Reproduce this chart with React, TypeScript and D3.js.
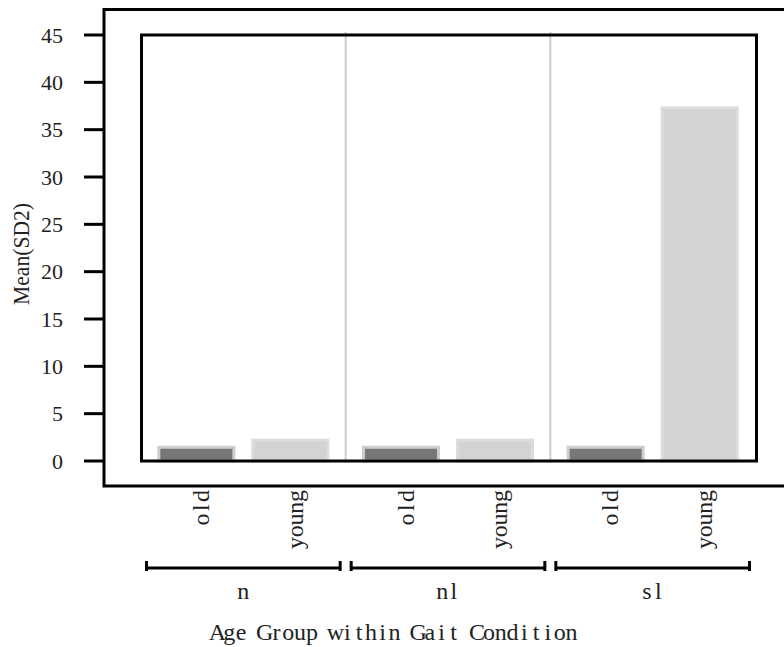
import React from "react";
import * as d3 from "d3";

const categories = ["n", "nl", "sl"];
const ageGroups = ["old", "young"];
const oldValues = [1.45, 1.45, 1.45];
const youngValues = [2.2, 2.2, 37.3];
const yTicks = [0, 5, 10, 15, 20, 25, 30, 35, 40, 45];
const yLabel = "Mean(SD2)";
const xLabel = "Age Group within Gait Condition";

const W = 784;
const H = 647;
const FONT = "'Liberation Serif', 'DejaVu Serif', serif";
const FS = 22;
const FS2 = 24;

const fills: Record<string, string> = { old: "#777777", young: "#d3d3d5" };
const strokes: Record<string, string> = { old: "#cdcdcd", young: "#dcdcdc" };

// monospaced placement: returns char centers list relative to anchor
function monoX(text: string, adv: number, anchor: "start" | "middle" | "end", offset = 0) {
  const n = text.length;
  const total = n * adv;
  const start = anchor === "start" ? 0 : anchor === "middle" ? -total / 2 : -total;
  return text
    .split("")
    .map((_, i) => (offset + start + adv * (i + 0.5)).toFixed(2))
    .join(" ");
}

export default function App() {
  const y = d3.scaleLinear().domain([0, 45]).range([461, 35]);
  const x = d3.scaleBand<string>().domain(categories).range([141, 755]);
  const inner = d3
    .scaleBand<string>()
    .domain(ageGroups)
    .range([0, x.bandwidth()])
    .paddingInner(0.202)
    .paddingOuter(0.19);

  const rows = categories.flatMap((c, i) => [
    { cat: c, age: "old", value: oldValues[i] },
    { cat: c, age: "young", value: youngValues[i] },
  ]);

  return (
    <svg width={W} height={H} style={{ position: "absolute", left: 0, top: 0, display: "block" }}>
      <rect x={0} y={0} width={W} height={H} fill="#ffffff" />
      {/* group dividers */}
      {categories.slice(1).map((c) => (
        <line key={c} x1={x(c)!} x2={x(c)!} y1={32} y2={463} stroke="#cccccc" strokeWidth={2} />
      ))}
      {/* bars */}
      {rows.map((r) => {
        const bx = x(r.cat)! + inner(r.age)!;
        return (
          <rect
            key={r.cat + r.age}
            x={bx}
            y={y(r.value)}
            width={inner.bandwidth()}
            height={y(0) - y(r.value)}
            fill={fills[r.age]}
            stroke={strokes[r.age]}
            strokeWidth={3}
          />
        );
      })}
      {/* inner box */}
      <rect x={141.5} y={35} width={615} height={y(0) - 35} fill="none" stroke="#000" strokeWidth={3} />
      {/* outer frame */}
      <path d={`M ${W + 5} 9.5 H 104 V 486 H ${W + 5}`} fill="none" stroke="#000" strokeWidth={3} />
      {/* y ticks */}
      {yTicks.map((t) => (
        <g key={t}>
          <line x1={84} x2={104} y1={y(t)} y2={y(t)} stroke="#000" strokeWidth={3} />
          <text x={63} y={y(t) + 7.5} textAnchor="end" fontFamily={FONT} fontSize={FS} fill="#222">
            {t}
          </text>
        </g>
      ))}
      {/* y label */}
      <g transform={`translate(29,254) rotate(-90)`}>
        <text
          x={-51}
          y={0}
          textLength={102}
          lengthAdjust="spacingAndGlyphs"
          fontFamily={FONT}
          fontSize={FS2}
          fill="#222"
        >
          {yLabel}
        </text>
      </g>
      {/* x tick labels */}
      {rows.map((r) => {
        const cx = x(r.cat)! + inner(r.age)! + inner.bandwidth() / 2;
        return (
          <g key={"l" + r.cat + r.age} transform={`translate(${cx + 12.5},490) rotate(-90)`}>
            <text x={monoX(r.age, 11.8, "end")} y={0} textAnchor="middle" fontFamily={FONT} fontSize={FS2} fill="#222">
              {r.age}
            </text>
          </g>
        );
      })}
      {/* brackets */}
      {categories.map((c) => {
        const x0 = x(c)! + 5.5;
        const x1 = x(c)! + x.bandwidth() - 5.5;
        return (
          <path
            key={"b" + c}
            d={`M ${x0} 561 V 571 M ${x0} 568 H ${x1} M ${x1} 561 V 571`}
            fill="none"
            stroke="#000"
            strokeWidth={3}
          />
        );
      })}
      {/* group labels */}
      {categories.map((c) => (
        <text
          key={"g" + c}
          x={monoX(c, 11.5, "middle", x(c)! + x.bandwidth() / 2)}
          y={599}
          textAnchor="middle"
          fontFamily={FONT}
          fontSize={FS2}
          fill="#222"
        >
          {c}
        </text>
      ))}
      {/* x axis title */}
      <text
        x={monoX(xLabel, 11.8, "middle", 394.5)}
        y={640}
        textAnchor="middle"
        fontFamily={FONT}
        fontSize={FS2}
        fill="#222"
      >
        {xLabel}
      </text>
    </svg>
  );
}
